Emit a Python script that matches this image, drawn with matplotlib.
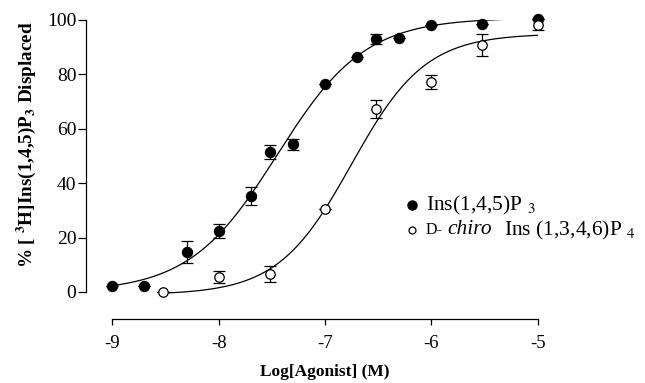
import numpy as np
import matplotlib
matplotlib.use("Agg")
import matplotlib.pyplot as plt

plt.rcParams['font.family'] = ['Liberation Serif', 'DejaVu Serif']
plt.rcParams['mathtext.fontset'] = 'stix'
plt.rcParams['axes.unicode_minus'] = False

# ---- data (log molar concentration, % displaced) ----
ip3_x = [-9.0, -8.7, -8.3, -8.0, -7.7, -7.52, -7.3, -7.0, -6.7, -6.52, -6.3, -6.0, -5.52, -5.0]
ip3_y = [2.2, 2.2, 14.7, 22.5, 35.3, 51.5, 54.3, 76.5, 86.3, 93.0, 93.3, 98.0, 98.5, 100.5]
ip3_err = [0, 0, 4.2, 2.5, 3.3, 2.7, 2.0, 0, 0, 2.0, 0, 0, 0, 0]

chiro_x = [-8.52, -8.0, -7.52, -7.0, -6.52, -6.0, -5.52, -5.0]
chiro_y = [0.0, 5.6, 6.5, 30.4, 67.3, 77.3, 90.8, 98.2]
chiro_err = [0, 2.2, 3.0, 0, 3.3, 2.6, 3.9, 2.0]

# fitted sigmoid parameters (bottom, top, logEC50, hill)
ip3_fit = (0.0, 100.8, -7.45, 1.05)
chiro_fit = (-1.0, 95.0, -6.75, 1.25)

x_ticks = [-9, -8, -7, -6, -5]
y_ticks = [0, 20, 40, 60, 80, 100]


def sigmoid(x, p):
    b, t, c, h = p
    return b + (t - b) / (1 + 10 ** (h * (c - x)))


fig = plt.figure(figsize=(6.45, 3.83), dpi=100)
ax = fig.add_axes([86 / 645, 1 - 319 / 383, (537.7 - 86) / 645, (319 - 20) / 383])
ax.set_xlim(-9 - 26.3 / 106.4, -5)
ax.set_ylim(-(319 - 292) / 2.72, 100)

xs1 = np.linspace(min(ip3_x), max(ip3_x), 300)
ax.plot(xs1, sigmoid(xs1, ip3_fit), color='black', lw=0.9, zorder=2)
xs2 = np.linspace(min(chiro_x), max(chiro_x), 300)
ax.plot(xs2, sigmoid(xs2, chiro_fit), color='black', lw=0.9, zorder=2)

ax.errorbar(ip3_x, ip3_y, yerr=ip3_err, fmt='o', color='black', ms=7.2,
            mfc='black', mec='black', ecolor='black', elinewidth=0.9,
            capsize=4, capthick=0.9, zorder=3, clip_on=False)
ax.errorbar(chiro_x, chiro_y, yerr=chiro_err, fmt='none', ecolor='black',
            elinewidth=0.9, capsize=4, capthick=0.9, zorder=4, clip_on=False)
ax.plot(chiro_x, chiro_y, 'o', ms=6.8, mfc='white', mec='black', mew=0.9,
        zorder=5, clip_on=False)

for s in ['top', 'right']:
    ax.spines[s].set_visible(False)
ax.spines['left'].set_bounds(0, 100)
ax.spines['bottom'].set_bounds(-9, -5)
for s in ['left', 'bottom']:
    ax.spines[s].set_linewidth(0.9)

ax.set_xticks(x_ticks)
ax.set_xticklabels([str(t) for t in x_ticks])
ax.set_yticks(y_ticks)
ax.tick_params(axis='y', direction='out', length=6, width=0.9, pad=1, labelsize=14)
ax.tick_params(axis='x', direction='out', length=4.5, width=0.9, pad=7, labelsize=13.5)

fig.text(325 / 645, 1 - 372 / 383, 'Log[Agonist] (M)', ha='center', va='center',
         fontsize=12.5, fontweight='bold')
fig.text(26 / 645, 1 - 145 / 383,
         r'% [ $\mathbf{^3}$H]Ins(1,4,5)P$\mathbf{_3}$ Displaced',
         rotation=90, ha='center', va='center', fontsize=13.8, fontweight='bold')

# legend
lx, ly1, ly2 = 411.7 / 645, 1 - 205 / 383, 1 - 230 / 383
fig.lines.append(plt.Line2D([lx], [ly1], transform=fig.transFigure, marker='o',
                            ms=6.5, mfc='black', mec='black', ls='none'))
fig.lines.append(plt.Line2D([lx], [ly2], transform=fig.transFigure, marker='o',
                            ms=5, mfc='white', mec='black', mew=0.9, ls='none'))
tx = 426 / 645
fig.text(tx, ly1, r'Ins(1,4,5)P $_3$', ha='left', va='center', fontsize=15.5)

fig.canvas.draw()
r = fig.canvas.get_renderer()
t1 = fig.text(tx, ly2, 'D-', ha='left', va='center', fontsize=11.5)
bb = t1.get_window_extent(r)
x2 = (bb.x1 + 4) / fig.bbox.width
t2 = fig.text(x2, ly2, 'chiro', ha='left', va='center', fontsize=15.5, style='italic')
bb = t2.get_window_extent(r)
x3 = (bb.x1 + 13) / fig.bbox.width
fig.text(x3, ly2, r'Ins (1,3,4,6)P $_4$', ha='left', va='center', fontsize=15.5)

fig.savefig('out.png', dpi=100)
